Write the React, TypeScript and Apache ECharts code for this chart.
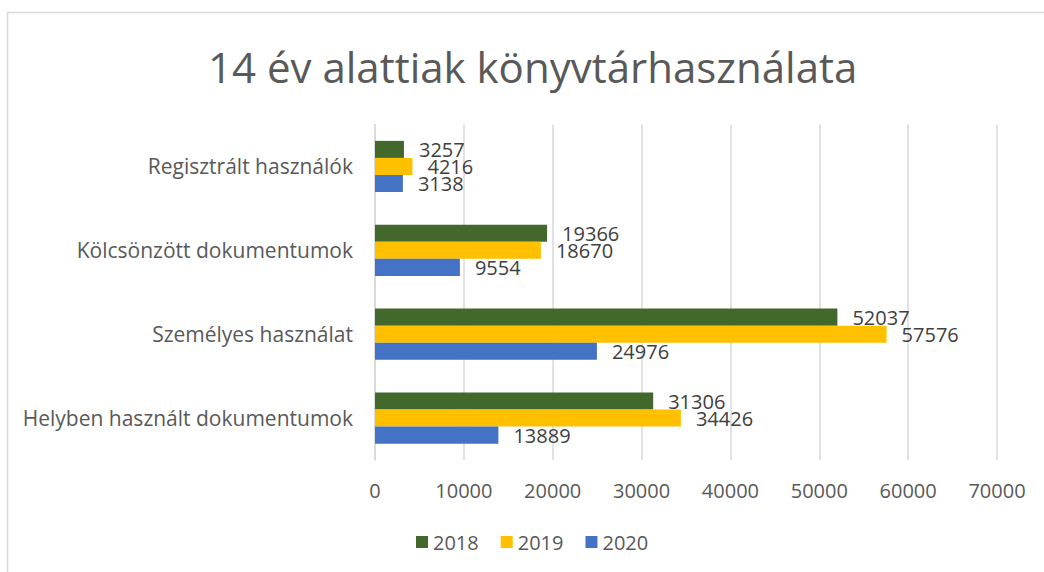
import React, { useEffect, useRef } from "react";
import * as echarts from "echarts";

const categories = [
  "Helyben használt dokumentumok",
  "Személyes használat",
  "Kölcsönzött dokumentumok",
  "Regisztrált használók",
];
const values2018 = [31306, 52037, 19366, 3257];
const values2019 = [34426, 57576, 18670, 4216];
const values2020 = [13889, 24976, 9554, 3138];
const seriesNames = ["2018", "2019", "2020"];
const titleText = "14 év alattiak könyvtárhasználata";

const FONT = "'Open Sans', 'Noto Sans', sans-serif";

export default function App() {
  const ref = useRef<HTMLDivElement>(null);
  useEffect(() => {
    if (!ref.current) return;
    const chart = echarts.init(ref.current, undefined, { renderer: "svg" });
    const label = {
      show: true,
      position: "right" as const,
      distance: 15,
      color: "#404040",
      fontSize: 20,
      fontFamily: FONT,
    };
    const colors: Record<string, string> = { "2018": "#43682B", "2019": "#FFC000", "2020": "#4472C4" };
    const dataBySeries: Record<string, number[]> = { "2018": values2018, "2019": values2019, "2020": values2020 };
    chart.setOption({
      animation: false,
      backgroundColor: "#ffffff",
      title: {
        text: titleText,
        left: 203,
        top: 40,
        textStyle: { fontSize: 42, fontWeight: "normal", color: "#595959", fontFamily: FONT },
      },
      graphic: [
        {
          type: "rect",
          shape: { x: 7.5, y: 12.5, width: 1200, height: 700 },
          style: { fill: "none", stroke: "#D9D9D9", lineWidth: 1.5 },
          silent: true,
        },
      ],
      legend: {
        data: seriesNames,
        top: 532,
        left: 416,
        itemWidth: 12,
        itemHeight: 12,
        itemGap: 22,
        icon: "rect",
        padding: 0,
        textStyle: { fontSize: 20, color: "#595959", fontFamily: FONT },
      },
      grid: { left: 375, right: 47, top: 124.5, bottom: 112, containLabel: false },
      xAxis: {
        type: "value",
        min: 0,
        max: 70000,
        interval: 10000,
        axisLine: { show: false },
        axisTick: { show: false },
        splitLine: { show: true, lineStyle: { color: "#D9D9D9", width: 1.5 } },
        axisLabel: {
          fontSize: 20,
          color: "#595959",
          fontFamily: FONT,
          margin: 20,
          formatter: (v: number) => String(v),
        },
      },
      yAxis: {
        type: "category",
        data: categories,
        axisLine: { show: true, lineStyle: { color: "#D9D9D9", width: 1.5 } },
        axisTick: { show: false },
        axisLabel: { fontSize: 21, color: "#595959", fontFamily: FONT, margin: 22 },
      },
      series: seriesNames.map((name) => ({
        name,
        type: "bar",
        data: dataBySeries[name],
        itemStyle: { color: colors[name] },
        barGap: "0%",
        barCategoryGap: "39%",
        label,
      })),
    });
    return () => chart.dispose();
  }, []);
  return (
    <div
      ref={ref}
      style={{ position: "fixed", left: 0, top: 0, width: 1044, height: 572 }}
    />
  );
}
